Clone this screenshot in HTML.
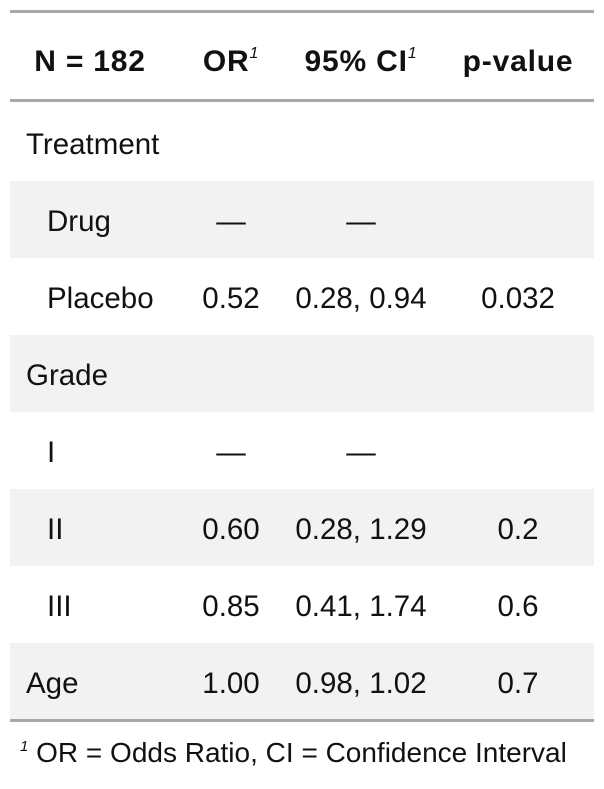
<!DOCTYPE html>
<html><head><meta charset="utf-8"><style>
body{margin:0;width:604px;height:789px;background:#fff;font-family:"Liberation Sans","DejaVu Sans",sans-serif;color:#111;position:relative;overflow:hidden}
.line{position:absolute;left:10px;width:584px;background:#a8a8a8}
.row{position:absolute;left:10px;width:584px;height:77px}
.g{background:#f2f2f2}
.c{position:absolute;top:2px;height:77px;line-height:77px;font-size:29.5px;white-space:nowrap}
.ctr{transform:translateX(-50%)}
.h{font-weight:bold;font-size:30px;letter-spacing:0.8px}
sup{font-style:italic;font-weight:normal;font-size:16px;vertical-align:0;position:relative;top:-13px}
</style></head><body>
<div class="line" style="top:10px;height:3px"></div>
<div class="row" style="top:20px;height:80px">
 <div class="c h ctr" style="left:80px;height:80px;line-height:80px">N = 182</div>
 <div class="c h ctr" style="left:221px;height:80px;line-height:80px">OR<sup>1</sup></div>
 <div class="c h ctr" style="left:351px;height:80px;line-height:80px">95% CI<sup>1</sup></div>
 <div class="c h ctr" style="left:508px;height:80px;line-height:80px">p-value</div>
</div>
<div class="line" style="top:99px;height:3px"></div>

<div class="row" style="top:104px"><div class="c" style="left:16px">Treatment</div></div>
<div class="row g" style="top:181px"><div class="c" style="left:37px">Drug</div>
 <div class="c ctr" style="left:221px">—</div><div class="c ctr" style="left:351px">—</div></div>
<div class="row" style="top:258px"><div class="c" style="left:37px">Placebo</div>
 <div class="c ctr" style="left:221px">0.52</div><div class="c ctr" style="left:351px">0.28, 0.94</div><div class="c ctr" style="left:508px">0.032</div></div>
<div class="row g" style="top:335px"><div class="c" style="left:16px">Grade</div></div>
<div class="row" style="top:412px"><div class="c" style="left:37px">I</div>
 <div class="c ctr" style="left:221px">—</div><div class="c ctr" style="left:351px">—</div></div>
<div class="row g" style="top:489px"><div class="c" style="left:37px">II</div>
 <div class="c ctr" style="left:221px">0.60</div><div class="c ctr" style="left:351px">0.28, 1.29</div><div class="c ctr" style="left:508px">0.2</div></div>
<div class="row" style="top:566px"><div class="c" style="left:37px">III</div>
 <div class="c ctr" style="left:221px">0.85</div><div class="c ctr" style="left:351px">0.41, 1.74</div><div class="c ctr" style="left:508px">0.6</div></div>
<div class="row g" style="top:643px"><div class="c" style="left:16px">Age</div>
 <div class="c ctr" style="left:221px">1.00</div><div class="c ctr" style="left:351px">0.98, 1.02</div><div class="c ctr" style="left:508px">0.7</div></div>
<div class="line" style="top:719px;height:3px"></div>
<div style="position:absolute;left:20px;top:733px;font-size:28px;line-height:40px;white-space:nowrap"><sup style="font-size:15px;top:-11px">1</sup> OR = Odds Ratio, CI = Confidence Interval</div>
</body></html>
